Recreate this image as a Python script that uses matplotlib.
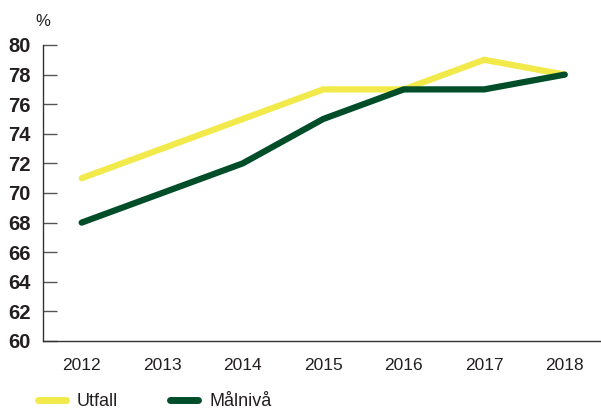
import matplotlib
matplotlib.use("Agg")
import matplotlib.pyplot as plt
from matplotlib.lines import Line2D

years = [2012, 2013, 2014, 2015, 2016, 2017, 2018]
utfall = [71, 73, 75, 77, 77, 79, 78]
malniva = [68, 70, 72, 75, 77, 77, 78]
yticks = [60, 62, 64, 66, 68, 70, 72, 74, 76, 78, 80]

YELLOW = "#f2ea4a"
GREEN = "#004d2a"
TXT = "#231f20"

plt.rcParams['font.family'] = ['Liberation Sans', 'DejaVu Sans']

fig = plt.figure(figsize=(6.01, 4.12), dpi=100)
ax = fig.add_axes([43/601, 1-341/412, 1-43/601, (341-45)/412])

ax.plot(years, utfall, color=YELLOW, lw=4.5, solid_capstyle='round', solid_joinstyle='miter', zorder=3, clip_on=False)
ax.plot(years, malniva, color=GREEN, lw=4.5, solid_capstyle='round', solid_joinstyle='miter', zorder=4, clip_on=False)

ax.set_xlim(2011.52, 2018.45)
ax.set_ylim(60, 80)
ax.set_yticks(yticks)
ax.set_yticklabels([str(v) for v in yticks], fontweight='bold', fontsize=14.5, color=TXT)
ax.set_xticks(years)
ax.set_xticklabels([str(y) for y in years], fontsize=12.5, color=TXT)
ax.tick_params(axis='y', direction='in', length=10, width=1, color='#555555', pad=9)
ax.tick_params(axis='x', length=0, pad=12)
for s in ['top', 'right']:
    ax.spines[s].set_visible(False)
for s in ['left', 'bottom']:
    ax.spines[s].set_color('#333333')
    ax.spines[s].set_linewidth(1)

fig.text(43/601, 1-22/412, "%", ha='center', va='center', fontsize=12, color=TXT)

handles = [Line2D([0], [0], color=YELLOW, lw=5, solid_capstyle='round'),
           Line2D([0], [0], color=GREEN, lw=5, solid_capstyle='round')]
fig.legend(handles, ["Utfall", "Målnivå"], loc='center left', bbox_to_anchor=(38/601, 1-402/412),
           ncol=2, frameon=False, fontsize=13, handlelength=1.55, columnspacing=2.9,
           handletextpad=0.6, labelcolor=TXT, borderpad=0, borderaxespad=0)

fig.savefig("out.png", dpi=100)
